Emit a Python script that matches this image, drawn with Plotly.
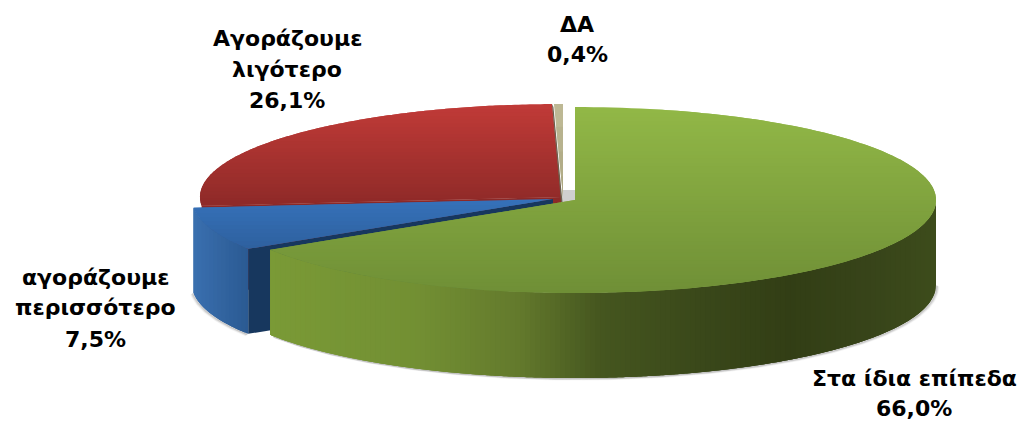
import numpy as np
import plotly.graph_objects as go

CATEGORIES = ["Στα ίδια επίπεδα", "αγοράζουμε περισσότερο", "Αγοράζουμε λιγότερο", "ΔΑ"]
VALUES = [66.0, 7.5, 26.1, 0.4]
VALUE_TEXT = ["66,0%", "7,5%", "26,1%", "0,4%"]

RX, RY, DEPTH = 361, 93, 85
CENTERS = [(575, 200), (553, 199), (561, 197), (563, 197)]
TOP_GRAD = [("#92b847", "#6f8f36", 107, 293), ("#3672bb", "#2d5f9c", 198, 252),
            ("#c23b38", "#8c2927", 103, 208), ("#c0bb97", "#a9a47f", 103, 200)]
WALL_STOPS = {
    0: [(270, "#7a9a36"), (420, "#728f33"), (520, "#63792c"), (600, "#45561f"), (700, "#3a481a"),
        (790, "#323e15"), (880, "#38451a"), (936, "#3d4c1b")],
    1: [(192, "#3a70b0"), (248, "#2b5a92")],
}
NAVY = "#17375e"
LABEL_LINES = [
    (["Στα ίδια επίπεδα", "66,0%"], 914, [378, 408]),
    (["αγοράζουμε", "περισσότερο", "7,5%"], 95, [277, 307, 339]),
    (["Αγοράζουμε", "λιγότερο", "26,1%"], 287, [38, 69, 100]),
    (["ΔΑ", "0,4%"], 577, [24, 54]),
]

def hex2rgb(c):
    return np.array([int(c[i:i + 2], 16) for i in (1, 3, 5)], float)

def mix(a, b, t):
    v = hex2rgb(a) * (1 - t) + hex2rgb(b) * t
    return "rgb(%d,%d,%d)" % tuple(v.round())

def ramp(stops, x):
    xs = [s[0] for s in stops]
    cols = np.array([hex2rgb(s[1]) for s in stops])
    v = [np.interp(x, xs, cols[:, i]) for i in range(3)]
    return "rgb(%d,%d,%d)" % tuple(np.round(v))

def rim(c, a0, a1, n=160):
    th = np.radians(np.linspace(a0, a1, n))
    return c[0] + RX * np.sin(th), c[1] - RY * np.cos(th)

def clip(pts, y0, y1):
    def half(poly, keep, edge):
        out = []
        for i in range(len(poly)):
            p, q = poly[i], poly[(i + 1) % len(poly)]
            if keep(p):
                out.append(p)
            if keep(p) != keep(q):
                t = (edge - p[1]) / (q[1] - p[1])
                out.append((p[0] + t * (q[0] - p[0]), edge))
        return out
    r = half(pts, lambda p: p[1] >= y0, y0)
    return half(r, lambda p: p[1] <= y1, y1) if r else r

fig = go.Figure()

def poly(x, y, color):
    x, y = list(x), list(y)
    fig.add_trace(go.Scatter(x=x + x[:1], y=y + y[:1], mode="none", fill="toself", fillcolor=color,
                             hoverinfo="skip", showlegend=False))

def top_face(i, a0, a1, bands):
    c = CENTERS[i]
    rx, ry = rim(c, a0, a1)
    pts = [(c[0], c[1])] + list(zip(rx, ry))
    c0, c1, y0, y1 = TOP_GRAD[i]
    edges = np.linspace(y0 - 1, y1 + 1, bands + 1)
    for k in range(bands):
        # each band runs on under the next ones, so no seam shows between them
        part = clip(pts, edges[k], edges[min(k + 2, bands)])
        if len(part) >= 3:
            poly([p[0] for p in part], [p[1] for p in part], mix(c0, c1, (k + .5) / bands))

def wall(i, a0, a1, step):
    c = CENTERS[i]
    fine = np.linspace(a0, a1, 2000)
    xs = c[0] + RX * np.sin(np.radians(fine))
    targets = np.arange(xs.min(), xs.max() + step, step)
    order = np.argsort(xs)
    ang = np.interp(targets, xs[order], fine[order])
    ang = np.unique(np.concatenate([[a0, a1], ang]))
    for k in range(len(ang) - 1):
        rx, ry = rim(c, ang[k], ang[min(k + 3, len(ang) - 1)], 8)
        mx = c[0] + RX * np.sin(np.radians((ang[k] + ang[k + 1]) / 2))
        poly(list(rx) + list(rx[::-1]), list(ry) + list(ry[::-1] + DEPTH), ramp(WALL_STOPS[i], mx))

edges = np.concatenate([[0], np.cumsum(VALUES)]) * 3.6
a = [(edges[i], edges[i + 1]) for i in range(len(VALUES))]

# soft shadow round the base
for off, alpha in [(4, .05), (3, .08), (2, .12), (1, .18)]:
    for i, (s, e) in [(0, (90, 237)), (1, (237.6, 264.6))]:
        rx, ry = rim(CENTERS[i], s, e)
        sx = 1 if i == 0 else -1
        fig.add_trace(go.Scatter(x=rx + sx * off * .6, y=ry + DEPTH + off * .4, mode="lines",
                                 line=dict(color=f"rgba(90,90,90,{alpha})", width=2),
                                 hoverinfo="skip", showlegend=False))

# beige sliver and its small shadow
fig.add_shape(type="rect", x0=562, x1=575, y0=190, y1=202, fillcolor="#cfcfcf", line_width=0, layer="below")
top_face(3, *a[3], 4)

# red, with its cut face under the blue slice
rl = rim(CENTERS[2], a[2][0], a[2][0], 2)
poly([CENTERS[2][0], rl[0][0], rl[0][0], CENTERS[2][0]],
     [CENTERS[2][1], rl[1][0], rl[1][0] + DEPTH, CENTERS[2][1] + DEPTH], "#8c2927")
top_face(2, *a[2], 30)
rr = rim(CENTERS[2], a[2][1], a[2][1], 2)
poly([CENTERS[2][0], rr[0][0], rr[0][0] + 1.5, CENTERS[2][0] + 1.5],
     [CENTERS[2][1] + 5, rr[1][0], rr[1][0] + 3, CENTERS[2][1] + 5], "#6d5f4c")

# blue
bx, by = rim(CENTERS[1], a[1][0], a[1][0], 2)
cbx, cby = CENTERS[1]
poly([cbx, bx[0], bx[0], cbx], [cby, by[0], by[0] + DEPTH, cby + DEPTH], NAVY)
wall(1, *a[1], 4)
top_face(1, *a[1], 14)

# green
wall(0, 90, a[0][1], 5)
top_face(0, *a[0], 50)

annotations = []
for lines, x, ys in LABEL_LINES:
    for t, y in zip(lines, ys):
        annotations.append(dict(x=x, y=y, text=f"<b>{t}</b>", showarrow=False, xanchor="center", yanchor="middle",
                                font=dict(family="DejaVu Sans", size=22, color="#000000")))

fig.update_layout(
    width=1021, height=421, margin=dict(l=0, r=0, t=0, b=0), autosize=False,
    paper_bgcolor="white", plot_bgcolor="white", showlegend=False, annotations=annotations,
    xaxis=dict(range=[0, 1021], visible=False, fixedrange=True),
    yaxis=dict(range=[421, 0], visible=False, fixedrange=True),
)
# the browser's default body margin would push the plot 8 px in
fig.write_html("out.html", config={"displayModeBar": False},
               post_script="document.body.style.margin='0';document.documentElement.style.overflow='hidden';")
